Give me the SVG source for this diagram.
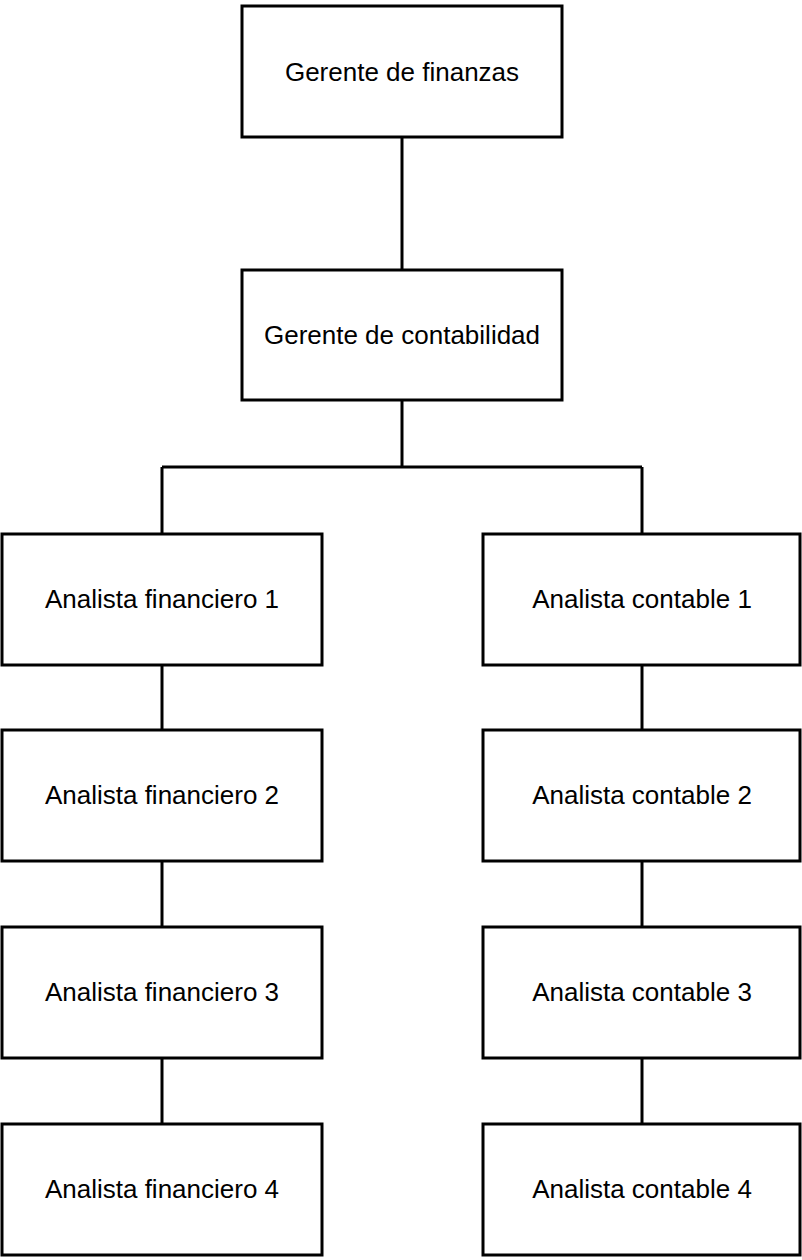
<svg xmlns="http://www.w3.org/2000/svg" width="802" height="1260" viewBox="0 0 802 1260">
  <style>
    .box { fill: #ffffff; stroke: #000000; stroke-width: 3; }
    .lbl { font-family: "Liberation Sans", Arial, sans-serif; font-size: 26px; fill: #000000; text-anchor: middle; }
    .conn { fill: none; stroke: #000000; stroke-width: 3; }
  </style>
  <rect x="0" y="0" width="802" height="1260" fill="#ffffff"/>

  <!-- connectors -->
  <g id="connectors">
    <path class="conn" d="M402 137 V270"/>
    <path class="conn" d="M402 400 V467"/>
    <path class="conn" d="M162 467 H642"/>
    <path class="conn" d="M162 467 V534"/>
    <path class="conn" d="M642 467 V534"/>
    <path class="conn" d="M162 665 V730"/>
    <path class="conn" d="M162 861 V927"/>
    <path class="conn" d="M162 1058 V1124"/>
    <path class="conn" d="M642 665 V730"/>
    <path class="conn" d="M642 861 V927"/>
    <path class="conn" d="M642 1058 V1124"/>
  </g>

  <g id="gerente-finanzas">
    <rect class="box" x="242" y="6" width="320" height="131"/>
    <text class="lbl" x="402" y="81">Gerente de finanzas</text>
  </g>
  <g id="gerente-contabilidad">
    <rect class="box" x="242" y="270" width="320" height="130"/>
    <text class="lbl" x="402" y="344">Gerente de contabilidad</text>
  </g>

  <g id="analista-financiero-1">
    <rect class="box" x="2" y="534" width="320" height="131"/>
    <text class="lbl" x="162" y="608">Analista financiero 1</text>
  </g>
  <g id="analista-financiero-2">
    <rect class="box" x="2" y="730" width="320" height="131"/>
    <text class="lbl" x="162" y="804">Analista financiero 2</text>
  </g>
  <g id="analista-financiero-3">
    <rect class="box" x="2" y="927" width="320" height="131"/>
    <text class="lbl" x="162" y="1001">Analista financiero 3</text>
  </g>
  <g id="analista-financiero-4">
    <rect class="box" x="2" y="1124" width="320" height="131"/>
    <text class="lbl" x="162" y="1198">Analista financiero 4</text>
  </g>

  <g id="analista-contable-1">
    <rect class="box" x="483" y="534" width="317" height="131"/>
    <text class="lbl" x="642" y="608">Analista contable 1</text>
  </g>
  <g id="analista-contable-2">
    <rect class="box" x="483" y="730" width="317" height="131"/>
    <text class="lbl" x="642" y="804">Analista contable 2</text>
  </g>
  <g id="analista-contable-3">
    <rect class="box" x="483" y="927" width="317" height="131"/>
    <text class="lbl" x="642" y="1001">Analista contable 3</text>
  </g>
  <g id="analista-contable-4">
    <rect class="box" x="483" y="1124" width="317" height="131"/>
    <text class="lbl" x="642" y="1198">Analista contable 4</text>
  </g>
</svg>
